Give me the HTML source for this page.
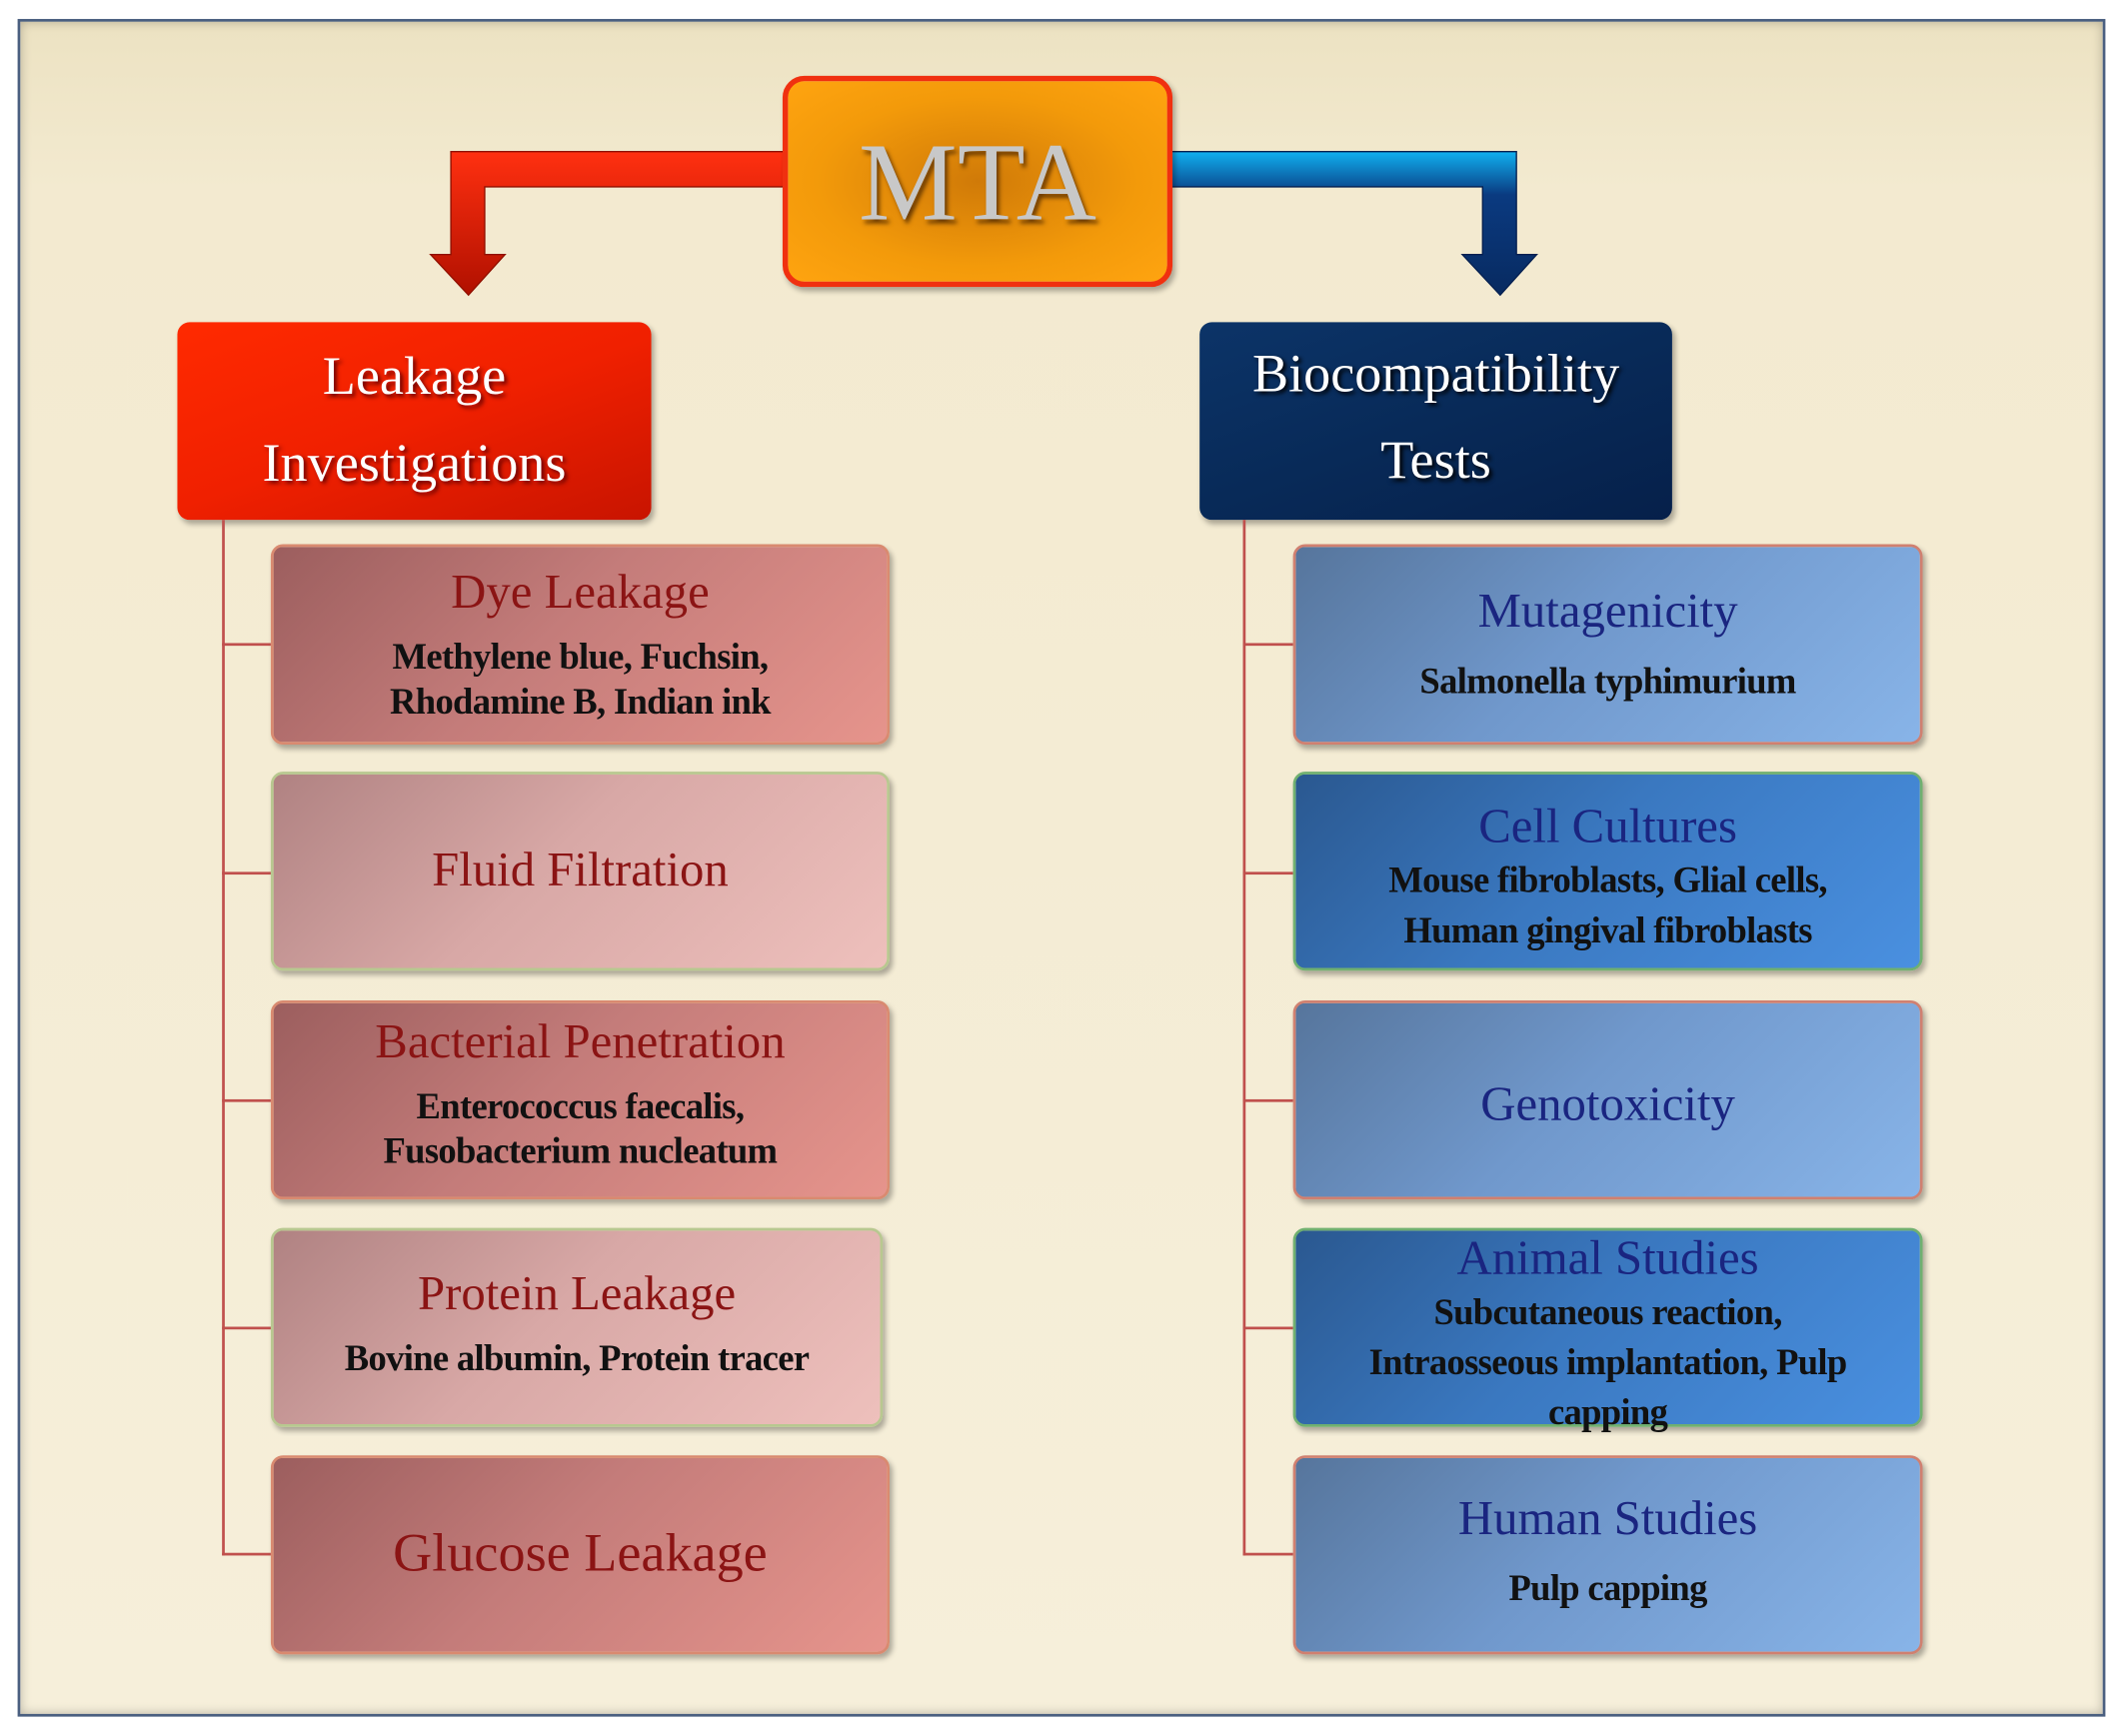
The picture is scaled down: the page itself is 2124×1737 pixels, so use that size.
<!DOCTYPE html>
<html><head><meta charset="utf-8"><style>
html,body{margin:0;padding:0;background:#fff;width:2124px;height:1737px;overflow:hidden}
#w{position:absolute;left:0;top:0;width:1568px;height:1282px;transform:scale(1.3546);transform-origin:0 0;font-family:"Liberation Serif",serif}
.frame{position:absolute;left:13px;top:14px;width:1538px;height:1250px;border:2px solid #4a5f80;background:linear-gradient(#ece2c2,#f3ead0 10%,#f6efda);box-shadow:inset 0 0 8px rgba(0,0,0,.25)}
.abs{position:absolute}
.box{position:absolute;border-radius:9px;box-sizing:border-box;text-align:center;box-shadow:2px 3px 4px rgba(0,0,0,.3)}
.lt{color:#8b1414;font-size:36px;line-height:40px}
.rt{color:#1a2580;font-size:36px;line-height:40px}
.sub{color:#111;font-weight:bold;font-size:27px;line-height:33px;letter-spacing:-0.5px}
.L1{background:linear-gradient(135deg,#9c5e5e,#c47c7a 45%,#e6948c);border:2px solid #d98a70}
.L2{background:linear-gradient(135deg,#b08282,#d8a8a6 45%,#eec0bc);border:2px solid #b8c890}
.R1{background:linear-gradient(135deg,#56759c,#7098cc 45%,#88b4e8);border:2px solid #d08070}
.R2{background:linear-gradient(135deg,#2a5890,#3a78c0 45%,#4a90e0);border:2px solid #70b070}
.ln{position:absolute;background:#c0504d}
</style></head><body><div id="w">
<div class="frame"></div>
<!-- arrows -->
<svg class="abs" style="left:0;top:0" width="1568" height="260">
<defs>
<linearGradient id="rg" x1="0" y1="0" x2="0" y2="1"><stop offset="0" stop-color="#ff3010"/><stop offset="1" stop-color="#b01000"/></linearGradient>
<linearGradient id="bg" x1="0" y1="0" x2="0" y2="1"><stop offset="0" stop-color="#10b0f0"/><stop offset=".3" stop-color="#0a3a80"/><stop offset="1" stop-color="#082a60"/></linearGradient>
</defs>
<path d="M580,112 L333,112 L333,188 L318,188 L346,218 L373,188 L358,188 L358,138 L580,138 Z" fill="url(#rg)" stroke="#901000" stroke-width="1"/>
<path d="M864,112 L1120,112 L1120,188 L1135,188 L1108,218 L1080,188 L1095,188 L1095,138 L864,138 Z" fill="url(#bg)" stroke="#062050" stroke-width="1"/>
</svg>
<div class="box" style="left:578px;top:56px;width:288px;height:156px;border:4px solid #f03010;background:radial-gradient(ellipse at center,#d07a08,#f39a0a 60%,#ffa410);border-radius:16px">
<div style="font-size:82px;line-height:150px;color:#c8c8c8;text-shadow:2px 3px 3px #6a3a00">MTA</div></div>
<div class="box" style="left:131px;top:238px;width:350px;height:146px;background:linear-gradient(160deg,#ff2a00,#f02000 50%,#c81400);color:#fff;font-size:40px;line-height:64px;padding-top:8px;text-shadow:2px 2px 3px #600">Leakage<br>Investigations</div>
<div class="box" style="left:886px;top:238px;width:349px;height:146px;background:linear-gradient(160deg,#0c3468,#082a58 50%,#06204a);color:#fff;font-size:40px;line-height:64px;padding-top:6px;text-shadow:2px 2px 3px #000">Biocompatibility<br>Tests</div>
<!-- tree lines -->
<div class="ln" style="left:164px;top:384px;width:2px;height:765px"></div>
<div class="ln" style="left:918px;top:384px;width:2px;height:765px"></div>
<div class="ln" style="left:164px;top:475px;width:36px;height:2px"></div>
<div class="ln" style="left:164px;top:644px;width:36px;height:2px"></div>
<div class="ln" style="left:164px;top:812px;width:36px;height:2px"></div>
<div class="ln" style="left:164px;top:980px;width:36px;height:2px"></div>
<div class="ln" style="left:164px;top:1147px;width:36px;height:2px"></div>
<div class="ln" style="left:918px;top:475px;width:37px;height:2px"></div>
<div class="ln" style="left:918px;top:644px;width:37px;height:2px"></div>
<div class="ln" style="left:918px;top:812px;width:37px;height:2px"></div>
<div class="ln" style="left:918px;top:980px;width:37px;height:2px"></div>
<div class="ln" style="left:918px;top:1147px;width:37px;height:2px"></div>
<!-- left children -->
<div class="box L1" style="left:200px;top:402px;width:457px;height:148px;padding-top:13px"><div class="lt">Dye Leakage</div><div class="sub" style="margin-top:12px">Methylene blue, Fuchsin,<br>Rhodamine B, Indian ink</div></div>
<div class="box L2" style="left:200px;top:570px;width:457px;height:147px;padding-top:50px"><div class="lt">Fluid Filtration</div></div>
<div class="box L1" style="left:200px;top:739px;width:457px;height:147px;padding-top:8px"><div class="lt">Bacterial Penetration</div><div class="sub" style="margin-top:12px">Enterococcus faecalis,<br>Fusobacterium nucleatum</div></div>
<div class="box L2" style="left:200px;top:907px;width:452px;height:147px;padding-top:26px"><div class="lt">Protein Leakage</div><div class="sub" style="margin-top:12px">Bovine albumin, Protein tracer</div></div>
<div class="box L1" style="left:200px;top:1075px;width:457px;height:147px;padding-top:50px"><div class="lt" style="font-size:40px">Glucose Leakage</div></div>
<!-- right children -->
<div class="box R1" style="left:955px;top:402px;width:465px;height:148px;padding-top:27px"><div class="rt">Mutagenicity</div><div class="sub" style="margin-top:16px">Salmonella typhimurium</div></div>
<div class="box R2" style="left:955px;top:570px;width:465px;height:147px;padding-top:18px"><div class="rt">Cell Cultures</div><div class="sub" style="margin-top:2px;line-height:37px">Mouse fibroblasts, Glial cells,<br>Human gingival fibroblasts</div></div>
<div class="box R1" style="left:955px;top:739px;width:465px;height:147px;padding-top:54px"><div class="rt">Genotoxicity</div></div>
<div class="box R2" style="left:955px;top:907px;width:465px;height:147px;padding-top:0px"><div class="rt">Animal Studies</div><div class="sub" style="margin-top:2px;line-height:37px">Subcutaneous reaction,<br>Intraosseous implantation, Pulp<br>capping</div></div>
<div class="box R1" style="left:955px;top:1075px;width:465px;height:147px;padding-top:24px"><div class="rt">Human Studies</div><div class="sub" style="margin-top:16px">Pulp capping</div></div>
</div></body></html>
